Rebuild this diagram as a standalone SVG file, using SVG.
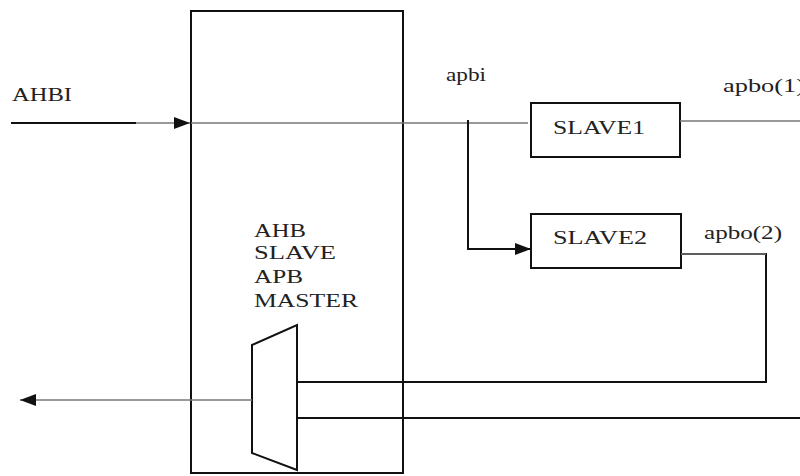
<svg xmlns="http://www.w3.org/2000/svg" width="800" height="476" viewBox="0 0 800 476">
<style>
.box{fill:none;stroke:#111;stroke-width:2}
.sig{fill:none;stroke:#777;stroke-width:1.6}
.bk{fill:none;stroke:#111;stroke-width:2}
.t{font-family:"Liberation Serif","Times New Roman",serif;font-size:19px;fill:#222}
</style>
<defs>
<marker id="ah2" markerWidth="16" markerHeight="12" refX="16" refY="6" orient="auto" markerUnits="userSpaceOnUse" viewBox="0 0 16 12">
<path d="M0,0 L16,6 L0,12 z" fill="#111"/>
</marker>
</defs>
<rect width="800" height="476" fill="#fff"/>
<g id="bridge">
<rect class="box" x="191" y="11" width="212" height="462"/>
<text class="t" x="254" y="237" textLength="52" lengthAdjust="spacingAndGlyphs">AHB</text>
<text class="t" x="254" y="259" textLength="82" lengthAdjust="spacingAndGlyphs">SLAVE</text>
<text class="t" x="254" y="283" textLength="49" lengthAdjust="spacingAndGlyphs">APB</text>
<text class="t" x="254" y="307" textLength="104" lengthAdjust="spacingAndGlyphs">MASTER</text>
</g>
<g id="mux">
<polygon class="box" points="252,345 297,325 297,470 252,453"/>
</g>
<g id="slave1">
<rect class="box" x="531" y="103" width="149" height="54"/>
<text class="t" x="553" y="134" textLength="92" lengthAdjust="spacingAndGlyphs">SLAVE1</text>
</g>
<g id="slave2">
<rect class="box" x="531" y="214" width="150" height="54"/>
<text class="t" x="553" y="244" textLength="94" lengthAdjust="spacingAndGlyphs">SLAVE2</text>
</g>
<g id="connectors">
<line class="bk" x1="11" y1="123" x2="136" y2="123"/>
<line class="sig" x1="136" y1="123" x2="190" y2="123" marker-end="url(#ah2)"/>
<line class="sig" x1="191" y1="123" x2="528" y2="123"/>
<polyline class="bk" points="468,120 468,249 531,249" marker-end="url(#ah2)"/>
<line class="sig" x1="680" y1="121" x2="800" y2="121"/>
<polyline class="bk" points="681,254 766,254 766,382 297,382"/>
<line class="sig" x1="681" y1="254" x2="766" y2="254"/>
<line class="bk" x1="297" y1="418" x2="800" y2="418"/>
<line class="sig" x1="252" y1="400" x2="20" y2="400" marker-end="url(#ah2)"/>
</g>
<g id="labels">
<text class="t" x="12" y="101" textLength="60" lengthAdjust="spacingAndGlyphs">AHBI</text>
<text class="t" x="446" y="81" textLength="40" lengthAdjust="spacingAndGlyphs">apbi</text>
<text class="t" x="723" y="92" textLength="82" lengthAdjust="spacingAndGlyphs">apbo(1)</text>
<text class="t" x="704" y="239" textLength="78" lengthAdjust="spacingAndGlyphs">apbo(2)</text>
</g>
</svg>
